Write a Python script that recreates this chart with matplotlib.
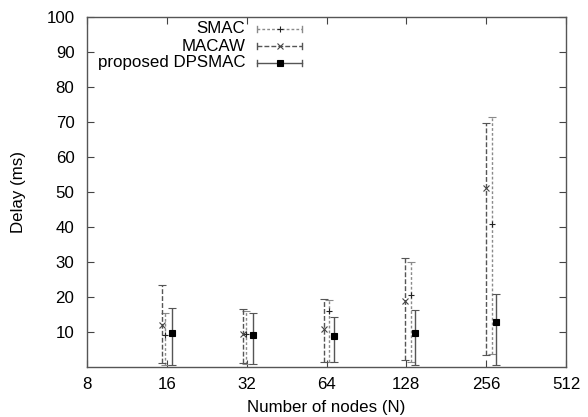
import matplotlib
matplotlib.use("Agg")
import matplotlib.pyplot as plt
from matplotlib.ticker import FixedLocator, FixedFormatter, NullLocator
import numpy as np

plt.rcParams['font.family'] = ['Liberation Sans', 'DejaVu Sans']

# x positions (slightly offset per series), mean delay, min and max
smac_x = [15.8, 31.8, 65.4, 133.0, 270.0]
smac_mean = [9.1, 9.5, 16.0, 20.6, 40.9]
smac_lo = [0.6, 0.8, 1.4, 1.4, 3.8]
smac_hi = [15.4, 16.0, 19.2, 30.0, 71.4]

macaw_x = [15.3, 30.9, 62.7, 126.7, 256.0]
macaw_mean = [12.0, 9.3, 10.8, 18.9, 51.1]
macaw_lo = [1.1, 1.2, 1.5, 2.0, 3.4]
macaw_hi = [23.5, 16.5, 19.4, 31.1, 69.7]

dps_x = [16.7, 33.7, 68.4, 138.5, 279.0]
dps_mean = [9.7, 9.1, 8.9, 9.6, 12.9]
dps_lo = [0.6, 1.0, 1.4, 0.6, 0.6]
dps_hi = [16.8, 15.4, 14.3, 16.3, 21.0]

xticks = [8, 16, 32, 64, 128, 256, 512]
yticks = [10, 20, 30, 40, 50, 60, 70, 80, 90, 100]

series = [
    ("SMAC", smac_x, smac_mean, smac_lo, smac_hi, (0, (2, 1.5)), '#8a8a8a', '+', '#222222', 5),
    ("MACAW", macaw_x, macaw_mean, macaw_lo, macaw_hi, (0, (3.5, 1.5)), '#555555', 'x', '#444444', 4),
    ("proposed DPSMAC", dps_x, dps_mean, dps_lo, dps_hi, '-', '#555555', 's', 'k', 5),
]

FS = 12.2

fig = plt.figure(figsize=(5.88, 4.17), dpi=100)
ax = fig.add_axes([87 / 588, 1 - 367 / 417, 479 / 588, 350 / 417])
ax.set_xscale('log', base=2)

for name, x, m, lo, hi, ls, col, mk, mcol, ms in series:
    m = np.array(m)
    yerr = [m - np.array(lo), np.array(hi) - m]
    ln, caps, bars = ax.errorbar(x, m, yerr=yerr, fmt=mk, color=mcol, ms=ms,
                                 mew=0.8, ecolor=col, elinewidth=1.0,
                                 capsize=3, capthick=1.0, zorder=3)
    for b in bars:
        b.set_linestyle(ls)

# legend drawn gnuplot-style: right-aligned text, then a sample bar
ly = [0.966, 0.917, 0.869]
for (name, x, m, lo, hi, ls, col, mk, mcol, ms), yy in zip(series, ly):
    ax.text(0.33, yy, name, transform=ax.transAxes, ha='right', va='center',
            fontsize=FS)
    ax.plot([0.355, 0.449], [yy, yy], transform=ax.transAxes, ls=ls,
            color=col, lw=1.0, clip_on=False)
    for ex in (0.355, 0.449):
        ax.plot([ex, ex], [yy - 0.009, yy + 0.009], transform=ax.transAxes,
                color=col, lw=1.0, clip_on=False)
    ax.plot([0.402], [yy], transform=ax.transAxes, marker=mk, color=mcol,
            ms=ms, mew=0.8, clip_on=False)

ax.set_xlim(8, 512)
ax.set_ylim(0, 100)
ax.xaxis.set_major_locator(FixedLocator(xticks))
ax.xaxis.set_major_formatter(FixedFormatter([str(t) for t in xticks]))
ax.xaxis.set_minor_locator(NullLocator())
ax.set_yticks(yticks)

ax.tick_params(direction='in', length=5, width=0.8, color='#444444',
               top=True, right=True, labelsize=FS)
ax.tick_params(axis='y', pad=9)
ax.tick_params(axis='x', pad=7)
for s in ax.spines.values():
    s.set_color('#555555')
    s.set_linewidth(1.0)

ax.set_xlabel('Number of nodes (N)', fontsize=FS, labelpad=6)
ax.set_ylabel('Delay (ms)', fontsize=FS, labelpad=15)

fig.savefig('out.png', dpi=100)
